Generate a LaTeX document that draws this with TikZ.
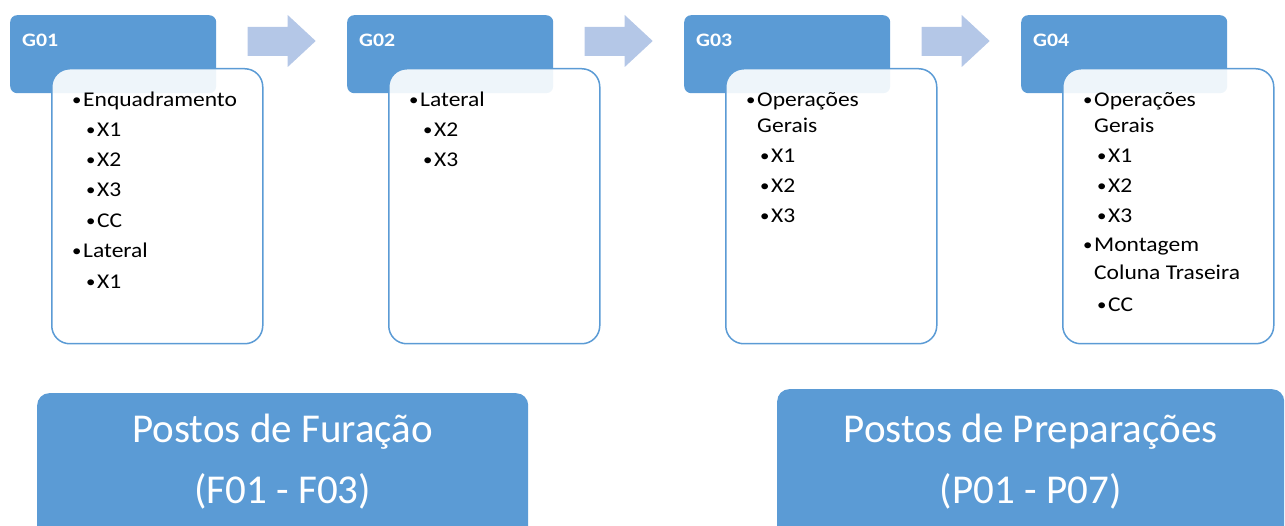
\documentclass[tikz,border=0pt]{standalone}
\usepackage{fontspec}
\usepackage{graphicx}
\setmainfont{Carlito}
\newfontfamily\listfont{Carlito}[FakeStretch=1.12]
\newfontfamily\tagfont{Carlito}[FakeStretch=1.15]
\usetikzlibrary{calc}
\definecolor{accent}{HTML}{5B9BD5}
\definecolor{arrowblue}{HTML}{B4C7E7}
\begin{document}
\begin{tikzpicture}[x=1pt,y=-1pt,
  headbox/.style={fill=accent, rounded corners=7pt, minimum width=206pt,
    minimum height=78pt, anchor=north west, inner sep=0pt},
  card/.style={draw=accent, line width=1.5pt, fill=white, fill opacity=0.9,
    rounded corners=18pt, minimum width=211pt, minimum height=275pt,
    anchor=north west, inner sep=0pt},
  glabel/.style={anchor=base west, inner sep=0pt, text=white,
    font=\tagfont\fontsize{19}{19}\selectfont\bfseries},
  itemtext/.style={anchor=base west, inner sep=0pt,
    font=\listfont\fontsize{21}{21}\selectfont},
  flowarrow/.style={fill=arrowblue},
  banner/.style={fill=accent, rounded corners=12pt, anchor=north west,
    inner sep=0pt},
  bannertext/.style={anchor=base, inner sep=0pt, text=white,
    font=\fontsize{41}{41}\selectfont}]
\newcommand{\bul}{\makebox[11pt][l]{\raisebox{0.12ex}{\scalebox{0.8}{•}}}}
\useasboundingbox (0,0) rectangle (1285,526);
\clip (0,0) rectangle (1285,526);

% group headers and their list cards
\foreach \i/\x in {1/10,2/347,3/684,4/1021}{
  \node[headbox] (h\i) at (\x,15) {};
  \node[glabel] (g\i) at (\x+12,47) {G0\i};
  \node[card] (c\i) at (\x+41,68) {};
}

% block arrows between the headers
\foreach \a/\b in {1/2,2/3,3/4}{
  \coordinate (m\a) at ($(h\a.north east)!0.5!(h\b.north west)+(0,26)$);
  \fill[flowarrow] ($(m\a)+(-34,-14)$) -- ($(m\a)+(6,-14)$) -- ($(m\a)+(6,-26)$)
    -- ($(m\a)+(34,0)$) -- ($(m\a)+(6,26)$) -- ($(m\a)+(6,15)$)
    -- ($(m\a)+(-34,15)$) -- cycle;
}

% G01 list
\node[itemtext] (l1a) at ($(c1.north west)+(21,39)$) {\bul Enquadramento};
\node[itemtext] (l1b) at ($(c1.north west)+(35,69)$) {\bul X1};
\node[itemtext] (l1c) at ($(c1.north west)+(35,99)$) {\bul X2};
\node[itemtext] (l1d) at ($(c1.north west)+(35,129)$) {\bul X3};
\node[itemtext] (l1e) at ($(c1.north west)+(35,160)$) {\bul CC};
\node[itemtext] (l1f) at ($(c1.north west)+(21,190)$) {\bul Lateral};
\node[itemtext] (l1g) at ($(c1.north west)+(35,221)$) {\bul X1};

% G02 list
\node[itemtext] (l2a) at ($(c2.north west)+(21,39)$) {\bul Lateral};
\node[itemtext] (l2b) at ($(c2.north west)+(35,69)$) {\bul X2};
\node[itemtext] (l2c) at ($(c2.north west)+(35,99)$) {\bul X3};

% G03 list
\node[itemtext] (l3a) at ($(c3.north west)+(21,39)$) {\bul Operações};
\node[itemtext] (l3b) at ($(c3.north west)+(32,65)$) {Gerais};
\node[itemtext] (l3c) at ($(c3.north west)+(35,95)$) {\bul X1};
\node[itemtext] (l3d) at ($(c3.north west)+(35,125)$) {\bul X2};
\node[itemtext] (l3e) at ($(c3.north west)+(35,155)$) {\bul X3};

% G04 list
\node[itemtext] (l4a) at ($(c4.north west)+(21,39)$) {\bul Operações};
\node[itemtext] (l4b) at ($(c4.north west)+(32,65)$) {Gerais};
\node[itemtext] (l4c) at ($(c4.north west)+(35,95)$) {\bul X1};
\node[itemtext] (l4d) at ($(c4.north west)+(35,125)$) {\bul X2};
\node[itemtext] (l4e) at ($(c4.north west)+(35,155)$) {\bul X3};
\node[itemtext] (l4f) at ($(c4.north west)+(21,184)$) {\bul Montagem};
\node[itemtext] (l4g) at ($(c4.north west)+(32,212)$) {Coluna Traseira};
\node[itemtext] (l4h) at ($(c4.north west)+(35,244)$) {\bul CC};

% station banners
\node[banner, minimum width=491pt, minimum height=160pt] (bf) at (37,393) {};
\node[bannertext] (bf1) at ($(bf.north)+(0,49)$) {Postos de Furação};
\node[bannertext] (bf2) at ($(bf.north)+(0,110)$) {(F01 - F03)};
\node[banner, minimum width=507pt, minimum height=160pt] (bp) at (777,389) {};
\node[bannertext] (bp1) at ($(bp.north)+(0,53)$) {Postos de Preparações};
\node[bannertext] (bp2) at ($(bp.north)+(0,114)$) {(P01 - P07)};
\end{tikzpicture}
\end{document}
